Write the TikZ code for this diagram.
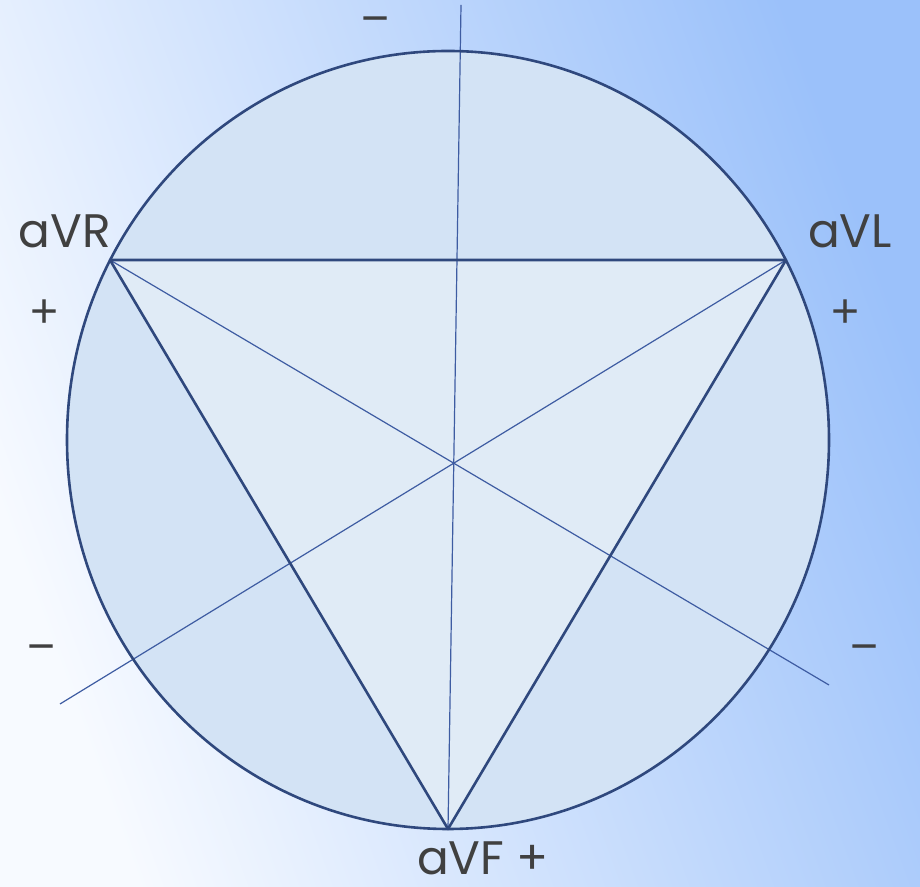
\documentclass[tikz,border=0pt]{standalone}
\usepackage{fontspec}
\setmainfont{Poppins}
\newfontfamily\signfont{Liberation Sans}
\usepackage{xcolor}
\usetikzlibrary{positioning}
\definecolor{bgleft}{RGB}{247,250,255}
\definecolor{bgright}{RGB}{155,193,250}
\definecolor{discfill}{RGB}{211,227,245}
\definecolor{trifill}{RGB}{224,235,246}
\definecolor{rimcol}{RGB}{47,72,125}
\definecolor{axiscol}{RGB}{62,92,162}
\definecolor{labelgrey}{RGB}{64,64,64}
\tikzset{
rimline/.style={
draw=rimcol,
line width=1.3pt,
line join=round
},
leadaxis/.style={
draw=axiscol,
line width=0.6pt
},
leadlabel/.style={
text=labelgrey,
inner sep=0pt,
font=\fontsize{23.5}{28}\selectfont
},
polarity/.style={
text=labelgrey,
inner sep=0pt,
font=\signfont\fontsize{24}{28}\selectfont
}
}

\begin{document}
\begin{tikzpicture}[x=0.5pt,y=0.5pt]
\useasboundingbox (0,0) rectangle (920,887);
\shade[left color=bgleft,right color=bgright,shading angle=110] (0,0) rectangle (920,887);

% triangle corners and axis ends
\coordinate (c) at (448,447);
\coordinate (vr) at (110,627);
\coordinate (vl) at (786,627);
\coordinate (vf) at (448,58);
\coordinate (top) at (461,882);
\coordinate (ll) at (60,183);
\coordinate (lr) at (829,202);

\fill[discfill] (c) ellipse [x radius=381,y radius=389];
\fill[trifill] (vr)--(vl)--(vf)--cycle;
\foreach \a/\b in {top/vf,vl/ll,vr/lr}
\draw[leadaxis](\a)--(\b);
\draw[rimline] (vr)--(vl)--(vf)--cycle;
\draw[rimline] (c) ellipse [x radius=381,y radius=389];

% labels
\node[leadlabel,anchor=base](aVR) at (65,639){aVR};
\node[leadlabel,anchor=base](aVL) at (850,639){aVL};
\node[leadlabel,anchor=base](aVF) at (483,12){aVF +};
\node[polarity](pR) at (45,573){+};
\node[polarity](pL) at (846,573){+};
\node[polarity](mT) at (376,861){−};
\node[polarity](mR) at (42,233){−};
\node[polarity](mL) at (865,233){−};
\end{tikzpicture}
\end{document}
